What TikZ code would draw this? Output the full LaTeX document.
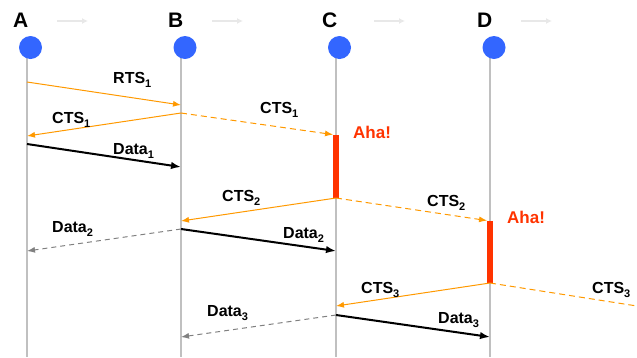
\documentclass[tikz,border=0pt]{standalone}
\usepackage{fontspec}
\setmainfont{Liberation Sans}
\usetikzlibrary{arrows.meta}

\definecolor{stationblue}{HTML}{3366FF}
\definecolor{lifegray}{HTML}{C0C0C0}
\definecolor{ctsorange}{HTML}{FF9900}
\definecolor{ahared}{HTML}{FF3300}
\definecolor{fadegray}{HTML}{808080}
\definecolor{hintgray}{HTML}{E8E8E8}

% frame index below the message name
\newcommand{\msgidx}[1]{\raisebox{-4.5pt}{\fontsize{11}{12}\selectfont #1}}

\begin{document}
\begin{tikzpicture}[x=1pt, y=-1pt,
  every node/.style={font=\bfseries\fontsize{16}{19}\selectfont, inner sep=0pt},
  station/.style={circle, fill=stationblue, minimum size=23pt},
  stationname/.style={font=\bfseries\fontsize{21}{25}\selectfont, anchor=base west},
  msg/.style={anchor=base west},
  life/.style={draw=lifegray, line width=2pt},
  hint/.style={draw=hintgray, line width=1.5pt, -{Latex[length=6pt,width=6pt]}},
  ctsline/.style={draw=ctsorange, line width=1pt, -{Latex[length=8pt,width=6pt]}},
  ctsheard/.style={ctsline, dash pattern=on 6pt off 4pt},
  dataline/.style={draw=black, line width=2pt, -{Latex[length=10pt,width=7.5pt]}},
  dataheard/.style={draw=fadegray, line width=1pt, dash pattern=on 5pt off 4pt, -{Latex[length=8pt,width=6pt]}},
  ahabar/.style={draw=ahared, line width=6pt},
  ahatext/.style={anchor=base west, text=ahared, font=\bfseries\fontsize{17}{20}\selectfont}]
\useasboundingbox (0,0) rectangle (637,357);

% Lifelines
\coordinate (atop) at (27,47);  \coordinate (abot) at (27,357);
\coordinate (btop) at (181,47); \coordinate (bbot) at (181,357);
\coordinate (ctop) at (336,47); \coordinate (cbot) at (336,357);
\coordinate (dtop) at (490,47); \coordinate (dbot) at (490,357);
\draw[life] (atop) -- (abot);
\draw[life] (btop) -- (bbot);
\draw[life] (ctop) -- (cbot);
\draw[life] (dtop) -- (dbot);

% Stations
\node[station] (a) at (30.5,47.5) {};
\node[station] (b) at (185,47.5) {};
\node[station] (c) at (339.5,47.5) {};
\node[station] (d) at (494,47.5) {};
\node[stationname] (aname) at (13,27) {A};
\node[stationname] (bname) at (168,27) {B};
\node[stationname] (cname) at (322,27) {C};
\node[stationname] (dname) at (477,27) {D};

% Direction hints
\coordinate (ah0) at (57,21);  \coordinate (ah1) at (88,21);
\coordinate (bh0) at (212,21); \coordinate (bh1) at (243,21);
\coordinate (ch0) at (374,21); \coordinate (ch1) at (405,21);
\coordinate (dh0) at (521,21); \coordinate (dh1) at (552,21);
\draw[hint] (ah0) -- (ah1);
\draw[hint] (bh0) -- (bh1);
\draw[hint] (ch0) -- (ch1);
\draw[hint] (dh0) -- (dh1);

% Message end points
\coordinate (a1) at (27,82);   \coordinate (b1) at (181,105);
\coordinate (b2) at (181,113); \coordinate (a2) at (27,136);  \coordinate (c2) at (336,135);
\coordinate (a3) at (27,144);  \coordinate (b3) at (181,167);
\coordinate (c4) at (336,198); \coordinate (b4) at (181,221); \coordinate (d4) at (490,221);
\coordinate (b5) at (181,229); \coordinate (c5) at (336,251); \coordinate (a5) at (27,251);
\coordinate (d6) at (490,283); \coordinate (c6) at (336,306); \coordinate (e6) at (660,309.6);
\coordinate (c7) at (336,315); \coordinate (d7) at (490,337); \coordinate (b7) at (181,337);

% C and D learn who is busy
\draw[ahabar] (c2) -- (c4);
\draw[ahabar] (d4) -- (d6);
\node[ahatext] (aha1) at (353,138) {Aha!};
\node[ahatext] (aha2) at (507,223) {Aha!};

% Round 1: A -> B
\draw[ctsline] (a1) -- (b1);
\draw[ctsline] (b2) -- (a2);
\draw[ctsheard, shorten >=3pt] (b2) -- (c2);
\draw[dataline] (a3) -- (b3);
\node[msg] (rts1) at (113,83) {RTS\msgidx{1}};
\node[msg] (cts1a) at (52,123) {CTS\msgidx{1}};
\node[msg] (cts1b) at (260,113) {CTS\msgidx{1}};
\node[msg] (data1) at (113,154) {Data\msgidx{1}};

% Round 2: C -> B
\draw[ctsline] (c4) -- (b4);
\draw[ctsheard, shorten >=3pt] (c4) -- (d4);
\draw[dataline] (b5) -- (c5);
\draw[dataheard] (b5) -- (a5);
\node[msg] (cts2a) at (222,201) {CTS\msgidx{2}};
\node[msg] (cts2b) at (427,206) {CTS\msgidx{2}};
\node[msg] (data2a) at (52,232) {Data\msgidx{2}};
\node[msg] (data2b) at (283,238) {Data\msgidx{2}};

% Round 3: D -> C, its CTS runs on past the edge
\draw[ctsline] (d6) -- (c6);
\draw[ctsheard] (d6) -- (e6);
\draw[dataline] (c7) -- (d7);
\draw[dataheard] (c7) -- (b7);
\node[msg] (cts3a) at (361,293) {CTS\msgidx{3}};
\node[msg] (cts3b) at (592,293) {CTS\msgidx{3}};
\node[msg] (data3a) at (207,316) {Data\msgidx{3}};
\node[msg] (data3b) at (438,323) {Data\msgidx{3}};
\end{tikzpicture}
\end{document}
